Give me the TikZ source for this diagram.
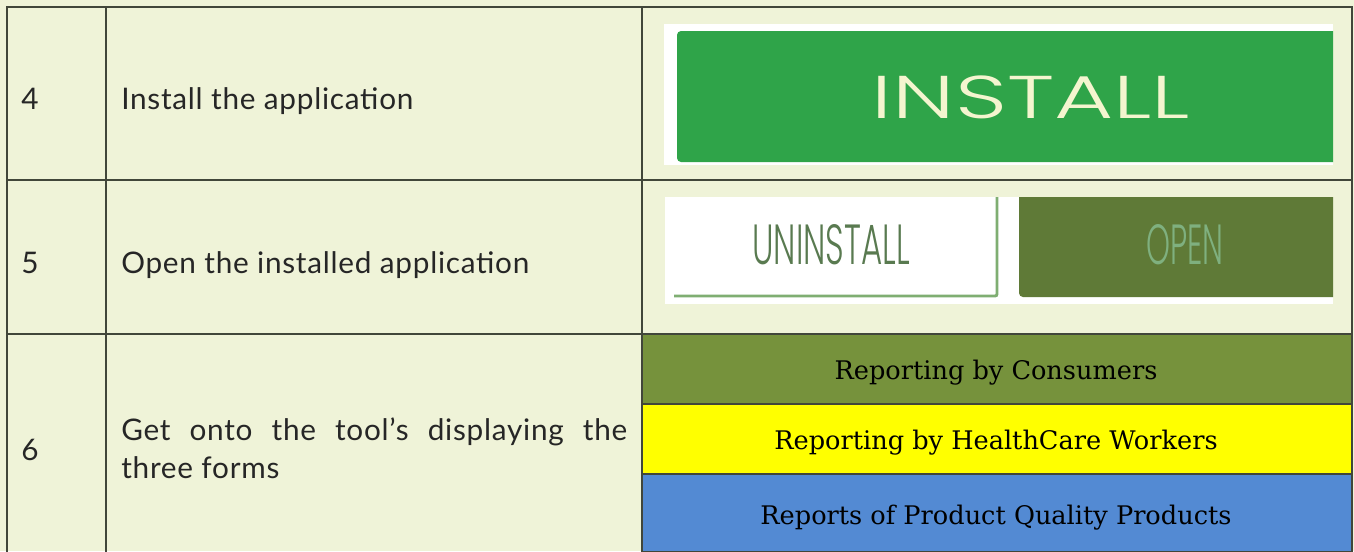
\documentclass[tikz,border=0pt]{standalone}
\usepackage{fontspec}
\usepackage{graphicx}
\setmainfont{Lato}[LetterSpace=2.5]
\newfontfamily\slabfont{DejaVu Serif}
\newfontfamily\btnfont{Poppins Light}
\definecolor{pagebg}{HTML}{EFF3D8}
\definecolor{gridc}{HTML}{41463A}
\definecolor{bargreen}{HTML}{76923C}
\definecolor{barblue}{HTML}{538AD3}
\definecolor{baryellow}{HTML}{FFFF00}
\definecolor{installgreen}{HTML}{2FA449}
\definecolor{openolive}{HTML}{5F7A37}
\definecolor{uninstline}{HTML}{7FAE72}
\definecolor{installtxt}{HTML}{F4F5CF}
\definecolor{opentxt}{HTML}{7FB07F}
\tikzset{
  x=0.75pt,y=-0.75pt,
  gridline/.style={draw=gridc,line width=1.1pt},
  celltext/.style={anchor=base west,inner sep=0pt,font=\fontsize{22.3}{26}\selectfont,text=black!85},
  bartext/.style={anchor=base,inner sep=0pt,font=\slabfont\fontsize{19.2}{22}\selectfont,text=black},
  barbox/.style={draw=gridc,line width=0.8pt},
}
\newcommand{\fitlabel}[3]{\resizebox{#1}{#2}{\btnfont #3}}
\begin{document}
\begin{tikzpicture}
\useasboundingbox (0,0) rectangle (1354,551);
\fill[pagebg] (0,0) rectangle (1354,551);
% coloured bars
\draw[barbox,fill=bargreen] (642,334) rectangle (1352,404);
\draw[barbox,fill=baryellow] (642,404) rectangle (1352,474);
\draw[barbox,fill=barblue] (642,474) rectangle (1352,552);
\node[bartext] (b1) at (996,379) {Reporting by Consumers};
\node[bartext] (b2) at (996,449) {Reporting by HealthCare Workers};
\node[bartext] (b3) at (996,524) {Reports of Product Quality Products};
% grid
\draw[gridline] (7,552) -- (7,7) -- (1352,7) -- (1352,552);
\draw[gridline] (106,7) -- (106,552);
\draw[gridline] (642,7) -- (642,552);
\draw[gridline] (7,180) -- (1352,180);
\draw[gridline] (7,334) -- (1352,334);
% cell text
\node[celltext] (n4) at (21,109) {4};
\node[celltext] (t4) at (121,109) {Install the application};
\node[celltext] (n5) at (21,273) {5};
\node[celltext] (t5) at (121,273) {Open the installed application};
\node[celltext] (n6) at (21,460) {6};
\node[celltext,anchor=north west,text width=379.5pt,align=justify,font=\fontsize{22.3}{28.6}\selectfont] (t6) at (121,417)
  {Get onto the tool's displaying the\linebreak three forms};
% install image
\fill[white] (664,24) rectangle (1333,165);
\fill[installgreen] (1333,31) -- (681,31) to[out=180,in=90] (677,35) -- (677,158) to[out=270,in=180] (681,162) -- (1333,162) -- cycle;
\node[inner sep=0pt,text=installtxt] (inst) at (1031,97) {\fitlabel{238.5pt}{32pt}{INSTALL}};
% uninstall/open image
\fill[white] (665,197) rectangle (1333,304);
\draw[uninstline,line width=2.2pt,rounded corners=1.5pt] (674,296) -- (997,296) -- (997,197);
\fill[openolive] (1333,197) -- (1019,197) -- (1019,293) to[out=270,in=180] (1023,297) -- (1333,297) -- cycle;
\node[inner sep=0pt,text=uninstline!70!black] (un) at (831,245) {\fitlabel{118pt}{30pt}{UNINSTALL}};
\node[inner sep=0pt,text=opentxt] (op) at (1185,245) {\fitlabel{58pt}{30pt}{OPEN}};
\end{tikzpicture}
\end{document}
